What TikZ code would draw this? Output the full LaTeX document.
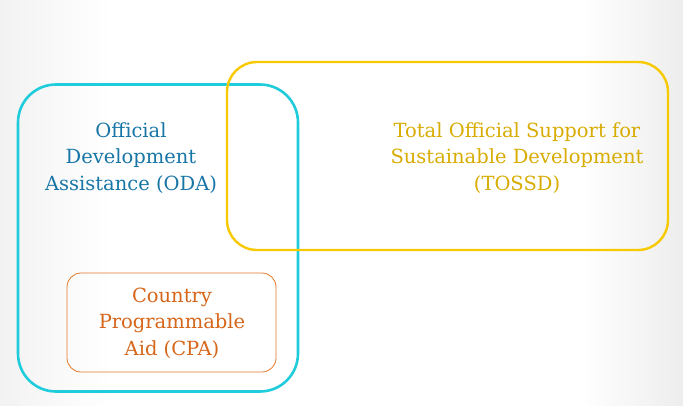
\documentclass[tikz,border=0pt]{standalone}
\usepackage{fontspec}
\setmainfont{DejaVu Serif}
\definecolor{odacyan}{HTML}{1FCCDB}
\definecolor{tossdyel}{HTML}{F7C900}
\definecolor{cpaor}{HTML}{E2782A}
\definecolor{odatext}{HTML}{1776A6}
\definecolor{tossdtext}{HTML}{D8AC00}
\definecolor{cpatext}{HTML}{D6661A}
\tikzset{
  box/.style={draw, fill=none, inner sep=0pt},
  lbl/.style={align=center, inner sep=0pt, font=\fontsize{19.5}{26.5}\selectfont},
}
\begin{document}
\begin{tikzpicture}[x=1pt,y=-1pt]
\useasboundingbox (0,0) rectangle (683,405);
\shade[left color=black!5, right color=white] (0,0) rectangle (110,405);
\fill[white] (110,0) rectangle (580,405);
\shade[left color=white, right color=black!7] (580,0) rectangle (683,405);
\node[box, draw=odacyan, line width=2.6pt, rounded corners=38pt, minimum width=280pt, minimum height=307pt] (oda) at (158,238) {};
\node[box, draw=tossdyel, line width=2.4pt, rounded corners=30pt, minimum width=441pt, minimum height=188pt] (tossd) at (447.5,156) {};
\node[box, draw=cpaor, line width=0.8pt, rounded corners=14pt, minimum width=209pt, minimum height=99pt] (cpa) at (171.5,322.5) {};
\node[lbl, text=odatext] (odat) at (131,158) {Official\\Development\\Assistance (ODA)};
\node[lbl, text=tossdtext] (tossdt) at (517,158) {Total Official Support for\\Sustainable Development\\(TOSSD)};
\node[lbl, text=cpatext] (cpat) at (172,323) {Country\\Programmable\\Aid (CPA)};
\end{tikzpicture}
\end{document}
